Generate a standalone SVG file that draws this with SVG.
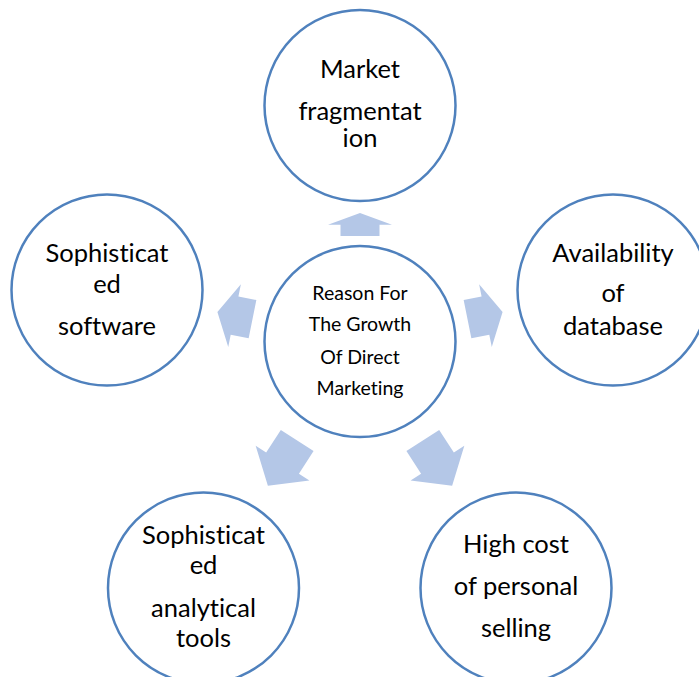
<svg xmlns="http://www.w3.org/2000/svg" width="699" height="677" viewBox="0 0 699 677">
  <style>
    .node { fill: #ffffff; stroke: #4f81bd; stroke-width: 2.5; }
    .label { font-family: Lato, "Noto Sans", "Liberation Sans", sans-serif; font-size: 25.5px; fill: #000000; text-anchor: middle; font-variant-ligatures: none; }
    .hub { font-size: 19.5px; }
    .arrow { fill: #b4c7e7; stroke: none; }
  </style>
  <defs>
    <!-- block arrows, tail at the origin, pointing along +x -->
    <polygon id="arrow-short" points="0,-19.5 11.3,-19.5 11.3,-32 23,0 11.3,32 11.3,19.5 0,19.5"/>
    <polygon id="arrow-mid" points="0,-19.5 18.3,-19.5 18.3,-32 35.8,0 18.3,32 18.3,19.5 0,19.5"/>
    <polygon id="arrow-long" points="0,-19.5 27,-19.5 27,-32 54,0 27,32 27,19.5 0,19.5"/>
  </defs>

  <rect width="699" height="677" fill="#ffffff"/>

  <g id="connectors" class="arrow">
    <use href="#arrow-short" transform="translate(360,236) rotate(-90)"/>
    <use href="#arrow-mid" transform="translate(252.5,319.2) rotate(191.4)"/>
    <use href="#arrow-mid" transform="translate(467.5,319.2) rotate(-11.4)"/>
    <use href="#arrow-long" transform="translate(297.2,440.5) rotate(122.9)"/>
    <use href="#arrow-long" transform="translate(422.8,440.5) rotate(57.1)"/>
  </g>

  <g id="hub">
    <circle class="node" cx="360" cy="341.5" r="95.5"/>
    <text class="label hub" x="360" y="299.5">Reason For</text>
    <text class="label hub" x="360" y="331">The Growth</text>
    <text class="label hub" x="360" y="363.5">Of Direct</text>
    <text class="label hub" x="360" y="395">Marketing</text>
  </g>

  <g id="market-fragmentation">
    <circle class="node" cx="360" cy="105.5" r="95.5"/>
    <text class="label" x="360" y="78">Market</text>
    <text class="label" x="360" y="120">fragmentat</text>
    <text class="label" x="360" y="147">ion</text>
  </g>

  <g id="availability-of-database">
    <circle class="node" cx="613" cy="290" r="95.5"/>
    <text class="label" x="613" y="262">Availability</text>
    <text class="label" x="613" y="302">of</text>
    <text class="label" x="613" y="335">database</text>
  </g>

  <g id="high-cost-of-personal-selling">
    <circle class="node" cx="516" cy="588" r="95.5"/>
    <text class="label" x="516" y="553">High cost</text>
    <text class="label" x="516" y="595">of personal</text>
    <text class="label" x="516" y="637">selling</text>
  </g>

  <g id="sophisticated-analytical-tools">
    <circle class="node" cx="203.5" cy="588" r="95.5"/>
    <text class="label" x="203.5" y="544">Sophisticat</text>
    <text class="label" x="203.5" y="574">ed</text>
    <text class="label" x="203.5" y="617">analytical</text>
    <text class="label" x="203.5" y="647">tools</text>
  </g>

  <g id="sophisticated-software">
    <circle class="node" cx="107" cy="290" r="95.5"/>
    <text class="label" x="107" y="262">Sophisticat</text>
    <text class="label" x="107" y="293">ed</text>
    <text class="label" x="107" y="335">software</text>
  </g>
</svg>
